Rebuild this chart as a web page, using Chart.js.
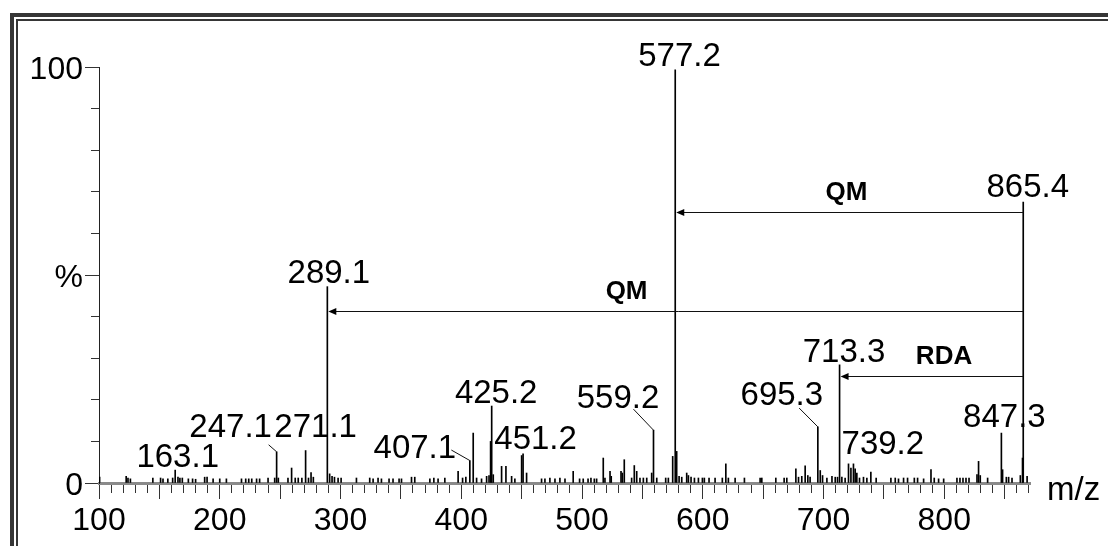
<!DOCTYPE html>
<html>
<head>
<meta charset="utf-8">
<script src="https://cdn.jsdelivr.net/npm/chart.js@4.4.1/dist/chart.umd.min.js"></script>
<style>
  html, body { margin: 0; padding: 0; background: #fff; }
  #wrap { position: relative; width: 1108px; height: 546px; overflow: hidden; background: #fff; }
  #c { position: absolute; left: 0; top: 0; }
  .frame { position: absolute; border-style: solid; border-color: #363636; width: 2000px; height: 2000px; }
  #frameOuter { left: 10px; top: 13px; border-width: 4px 0 0 4px; }
  #frameInner { left: 16px; top: 19px; border-width: 2px 0 0 2px; }
</style>
</head>
<body>
<div id="wrap">
  <div class="frame" id="frameOuter"></div>
  <div class="frame" id="frameInner"></div>
  <canvas id="c" width="1108" height="546"></canvas>
</div>
<script>
// Labelled ions: m/z and relative abundance (%)
const ionMz        = [163.1, 247.1, 271.1, 289.1, 407.1, 425.2, 451.2, 559.2, 577.2, 695.3, 713.3, 739.2, 847.3, 865.4];
const ionAbundance = [3.1,   7.5,   7.8,   47.2,  5.4,   18.5,  7.0,   12.7,  99.3,  13.5,  28.4,  2.6,   12.0,  67.5];

// Unlabelled minor ions
const minorMz = [
  100.5, 122.5, 124, 126, 144.6, 151, 153, 157, 161, 165.4, 167, 169, 174, 177.5, 180,
  187.5, 189.5, 194.5, 200, 205.5, 218, 221.5, 224, 226.5, 230.5, 233, 240, 245.5, 248.5,
  256.5, 259.5, 262.5, 265, 268, 273.5, 275.6, 277.5, 291, 293, 295, 298, 300.5, 313.2,
  324.2, 327, 331.1, 333.9, 340.2, 343.5, 348.5, 350.5, 358.8, 361.5, 374, 377.3, 380.8,
  386.4, 397.4, 401.1, 403.8, 409.9, 412.7, 416.8, 421, 423, 424.3, 426.5, 433.4, 437,
  441.7, 444.4, 450, 454.1, 466.5, 469.3, 473.4, 477.6, 481.7, 485.9, 492.7, 498, 501, 505,
  507.4, 510.2, 512.1, 517.6, 519, 523.2, 524.2, 532.3, 533.4, 535, 541.1, 543.3, 545.3,
  548, 550.8, 553.6, 557.7, 561.9, 569.3, 571.5, 575.1, 578.4, 580.4, 582.6, 586.7, 588.1,
  590.3, 593.1, 596.4, 599.7, 601.3, 605.2, 610.2, 616.2, 619.1, 621.2, 626.8, 634.5,
  647.5, 648.9, 660.5, 667.4, 669.6, 677.1, 679.3, 682, 684.8, 687, 688.9, 697.3, 699.2,
  702.8, 707, 709.7, 711.6, 715.2, 717.9, 720.7, 722.7, 724.8, 726.2, 727.6, 729.8, 733.1,
  735.9, 743.6, 755.8, 759.4, 762.1, 766.3, 769.6, 775.2, 777.9, 782.9, 789, 791.7, 795.3,
  799.5, 810.5, 813, 815.5, 818, 820.5, 827.1, 828.4, 829.8, 835.9, 848.3, 851.4, 853.3,
  856.1, 863, 864.8, 868.6
];
const minorAbundance = [
  1.4, 1.6, 1.2, 1.0, 1.2, 1.2, 1.0, 1.0, 1.2, 1.4, 1.2, 1.2, 1.0, 1.0, 0.9,
  1.4, 1.4, 1.0, 1.0, 1.0, 1.0, 1.0, 1.0, 1.0, 1.0, 1.0, 1.2, 1.2, 1.2,
  1.2, 3.6, 1.2, 1.2, 1.2, 1.2, 2.5, 1.4, 2.2, 1.6, 1.4, 1.2, 1.2, 1.2,
  1.2, 1.0, 1.2, 1.0, 1.0, 1.0, 1.0, 1.0, 1.4, 1.4, 1.0, 1.2, 1.0,
  1.2, 2.8, 1.2, 1.4, 12.0, 1.2, 1.0, 1.6, 1.8, 10.0, 2.0, 4.0, 4.0,
  1.6, 1.0, 6.6, 2.4, 1.0, 1.0, 1.2, 1.0, 1.2, 1.0, 2.8, 1.0, 1.0, 1.0,
  1.2, 1.0, 1.0, 6.0, 1.2, 2.8, 1.6, 2.8, 2.4, 5.6, 1.2, 4.2, 2.8,
  1.2, 1.2, 1.2, 2.4, 1.2, 1.2, 1.2, 6.4, 7.6, 1.6, 1.4, 2.4, 1.8,
  1.4, 1.2, 1.2, 1.2, 1.2, 1.2, 1.2, 1.2, 4.6, 1.2, 1.2, 1.2,
  1.2, 1.2, 1.2, 1.2, 1.2, 3.4, 1.4, 1.6, 4.1, 1.8, 1.4, 3.0, 1.8,
  1.2, 1.6, 1.4, 1.4, 1.4, 1.2, 4.6, 3.6, 4.6, 3.4, 2.4, 1.2, 1.4,
  1.2, 1.2, 1.2, 1.2, 1.0, 1.2, 1.2, 1.2, 1.2, 1.0, 3.2, 1.2, 1.0,
  1.0, 1.2, 1.2, 1.2, 1.2, 1.2, 2.0, 5.2, 1.8, 1.2, 3.2, 1.4, 1.4,
  1.2, 1.8, 6.0, 1.6
];

// Neutral-loss arrows: precursor -> product, drawn at a given abundance level
const lossFrom  = [865.4, 865.4, 865.4];
const lossTo    = [577.2, 289.1, 713.3];
const lossLevel = [65.1, 41.3, 25.7];
const lossText  = ['QM', 'QM', 'RDA'];

// Axis settings
const xMin = 100, xMax = 871;
const yTickLabels = { 0: '0', 50: '%', 100: '100' };

// Text placement for the peak labels (pixel offsets from the peak top)
const ionLabelPlacement = {
  '163.1': { dx: 2.5, dy: -3 },
  '247.1': { dx: -46, dy: -15, lead: [-8, -7] },
  '271.1': { dx: 10, dy: -14 },
  '289.1': { dx: 1.5, dy: -4 },
  '407.1': { dx: -55, dy: -2.5, lead: [-18.5, -10.5] },
  '425.2': { dx: 4.5, dy: -3 },
  '451.2': { dx: 12.5, dy: -5 },
  '559.2': { dx: -35.5, dy: -22, lead: [-20, -21] },
  '577.2': { dx: 4.3, dy: -4 },
  '695.3': { dx: -36, dy: -22, lead: [-18.7, -18.8] },
  '713.3': { dx: 4.4, dy: -3 },
  '739.2': { dx: 12, dy: -18 },
  '847.3': { dx: 3, dy: -6 },
  '865.4': { dx: 4.5, dy: -5 }
};
// Horizontal centre (in m/z) of each arrow caption
const lossTextAt = [719.0, 536.9, 799.8];

const FONT = '"Liberation Sans", Arial, Helvetica, sans-serif';
Chart.defaults.font.family = FONT;
Chart.defaults.color = '#000';

const spectrum = [];
minorMz.forEach((mz, i) => spectrum.push({ x: mz, y: minorAbundance[i] }));
ionMz.forEach((mz, i) => spectrum.push({ x: mz, y: ionAbundance[i] }));

const annotations = {
  id: 'spectrumAnnotations',
  afterDatasetsDraw(chart) {
    const { ctx, chartArea } = chart;
    const xs = chart.scales.x, ys = chart.scales.y;
    ctx.save();
    ctx.fillStyle = '#000';
    ctx.strokeStyle = '#111';
    ctx.lineWidth = 1;

    // peak labels with optional leader lines
    ctx.font = '33px ' + FONT;
    ctx.textAlign = 'center';
    ctx.textBaseline = 'alphabetic';
    ionMz.forEach((mz, i) => {
      const text = mz.toFixed(1);
      const p = ionLabelPlacement[text] || { dx: 0, dy: -4 };
      const px = xs.getPixelForValue(mz);
      const py = ys.getPixelForValue(ionAbundance[i]);
      ctx.fillText(text, px + p.dx, py + p.dy);
      if (p.lead) {
        ctx.beginPath();
        ctx.moveTo(px + p.lead[0], py + p.lead[1]);
        ctx.lineTo(px, py);
        ctx.stroke();
      }
    });

    // neutral-loss arrows
    lossFrom.forEach((from, i) => {
      const x1 = xs.getPixelForValue(from);
      const x2 = xs.getPixelForValue(lossTo[i]);
      const yy = Math.round(ys.getPixelForValue(lossLevel[i])) + 0.5;
      ctx.beginPath();
      ctx.moveTo(x1, yy);
      ctx.lineTo(x2 + 6, yy);
      ctx.stroke();
      ctx.beginPath();
      ctx.moveTo(x2 + 1, yy);
      ctx.lineTo(x2 + 9, yy - 3.5);
      ctx.lineTo(x2 + 9, yy + 3.5);
      ctx.closePath();
      ctx.fill();
      ctx.font = 'bold 26px ' + FONT;
      ctx.textAlign = 'center';
      ctx.fillText(lossText[i], xs.getPixelForValue(lossTextAt[i]), yy - 13);
    });

    // axis title at the end of the m/z axis
    ctx.font = '33px ' + FONT;
    ctx.textAlign = 'left';
    ctx.fillText('m/z', chartArea.right + 17, chartArea.bottom + 17);
    ctx.restore();
  }
};

new Chart(document.getElementById('c'), {
  type: 'bar',
  data: {
    datasets: [{
      data: spectrum,
      backgroundColor: '#000',
      borderWidth: 0,
      barThickness: 1,
      grouped: false
    }]
  },
  options: {
    responsive: false,
    animation: false,
    events: [],
    layout: { padding: { top: 67, right: 78, bottom: 0, left: 0 } },
    plugins: { legend: { display: false }, tooltip: { enabled: false } },
    scales: {
      x: {
        type: 'linear',
        min: xMin,
        max: xMax,
        offset: false,
        afterFit(scale) { scale.height = 63; },
        border: { display: true, color: '#8a8a8a', width: 3 },
        grid: {
          offset: false,
          drawOnChartArea: false,
          drawTicks: true,
          tickLength: 16,
          tickColor: '#333',
          tickWidth: 1,
          tickBorderDash: (c) => (c.tick && Math.round(c.tick.value) % 50 === 0) ? [] : [8, 40]
        },
        ticks: {
          stepSize: 10,
          includeBounds: false,
          autoSkip: false,
          maxRotation: 0,
          padding: 3,
          font: { size: 32 },
          color: '#000',
          callback: (v) => (Math.round(v) % 100 === 0 ? String(Math.round(v)) : '')
        }
      },
      y: {
        type: 'linear',
        min: 0,
        max: 100,
        afterFit(scale) { scale.width = 99; },
        border: { display: true, color: '#222', width: 1 },
        grid: {
          drawOnChartArea: false,
          drawTicks: true,
          tickLength: 14,
          tickColor: '#333',
          tickWidth: 1,
          tickBorderDash: (c) => (c.tick && Math.round(c.tick.value) % 50 === 0) ? [] : [0, 6, 8, 40]
        },
        ticks: {
          stepSize: 10,
          autoSkip: false,
          padding: 2,
          labelOffset: 3,
          font: { size: 32 },
          color: '#000',
          callback: (v) => (yTickLabels[Math.round(v)] !== undefined ? yTickLabels[Math.round(v)] : '')
        }
      }
    }
  },
  plugins: [annotations]
});
</script>
</body>
</html>
